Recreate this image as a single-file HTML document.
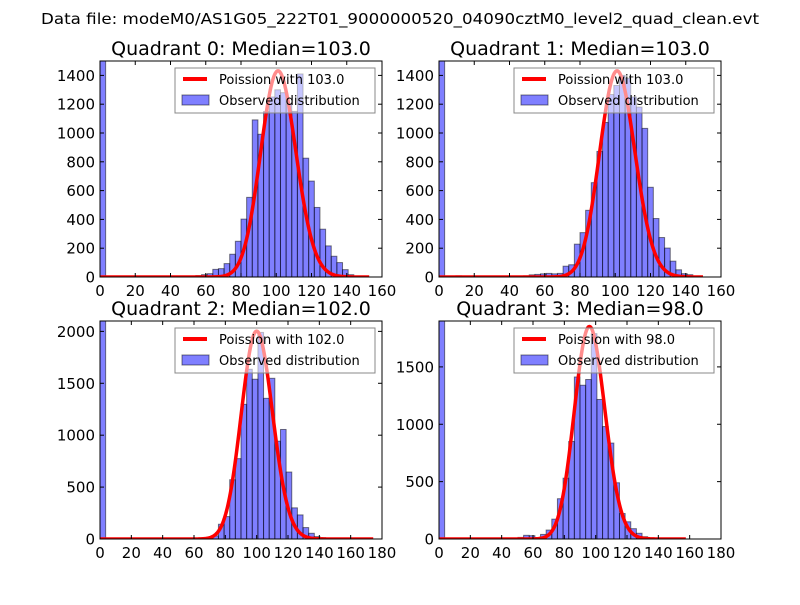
<!DOCTYPE html>
<html><head><meta charset="utf-8"><style>
html,body{margin:0;padding:0;background:#fff;}
svg text{font-family:"DejaVu Sans","Liberation Sans",sans-serif;}
</style></head><body>
<svg id="fig" width="800" height="600" xmlns="http://www.w3.org/2000/svg">
<rect x="0" y="0" width="800" height="600" fill="#fff"/>
<text x="400" y="24" font-size="15" text-anchor="middle" textLength="718" lengthAdjust="spacingAndGlyphs">Data file: modeM0/AS1G05_222T01_9000000520_04090cztM0_level2_quad_clean.evt</text>
</svg>
<script>
// ---- data ----
const titles = ["Quadrant 0: Median=103.0","Quadrant 1: Median=103.0","Quadrant 2: Median=102.0","Quadrant 3: Median=98.0"];
const medians = [103.0, 103.0, 102.0, 98.0];
const xMaxes = [160, 160, 180, 180];
const yMaxes = [1500, 1500, 2100, 1900];
const yTicks0 = [0,200,400,600,800,1000,1200,1400];
const yTicks1 = [0,200,400,600,800,1000,1200,1400];
const yTicks2 = [0,500,1000,1500,2000];
const yTicks3 = [0,500,1000,1500];
const xTicksTop = [0,20,40,60,80,100,120,140,160];
const xTicksBottom = [0,20,40,60,80,100,120,140,160,180];
const curvePeaks = [1430, 1430, 2000, 1850];
const curveEnds = [155, 152, 177, 160];
// counts per bin (50 bins each), bin 0 overflows the axis
const counts0 = [5000,0,0,0,0,0,0,0,0,0,0,0,0,0,3,5,6,10,16,23,53,58,93,158,248,402,553,1091,991,1149,1250,1300,1280,1200,1150,1410,825,666,483,332,216,144,100,51,16,5,0,0,0,0];
const counts1 = [5000,0,0,8,5,0,0,0,0,0,0,0,0,0,5,8,15,18,22,25,22,25,75,85,228,308,463,655,872,1073,1267,1330,1400,1380,1250,1180,1032,623,406,274,201,110,50,23,16,5,0,0,0,0];
const counts2 = [5000,0,0,0,0,0,0,0,0,0,0,0,0,0,0,0,5,8,12,15,30,142,216,571,774,1297,1635,1539,1990,1355,1548,942,1055,645,300,232,110,55,23,13,0,0,0,0,0,0,0,0,0,0];
const counts3 = [5000,0,0,0,0,0,0,0,0,0,0,0,0,0,14,32,29,12,40,78,173,351,530,850,1412,1340,1390,1790,1216,980,836,490,222,150,90,50,20,8,0,0,0,0,0,0,0,0,0,0,0,0];
const allCounts = [counts0, counts1, counts2, counts3];
const allYTicks = [yTicks0, yTicks1, yTicks2, yTicks3];
const curveShift = -1.5;

const NS = "http://www.w3.org/2000/svg";
const fig = document.getElementById('fig');
const boxes = [[100,61,382,277],[439,61,721,277],[100,321,382,539],[439,321,721,539]];

function mk(tag, attrs, parent){
  const e = document.createElementNS(NS, tag);
  for (const k in attrs) e.setAttribute(k, attrs[k]);
  parent.appendChild(e); return e;
}
function lgamma(z){
  let s = 0; while (z < 8){ s -= Math.log(z); z += 1; }
  return s + (z-0.5)*Math.log(z) - z + 0.5*Math.log(2*Math.PI) + 1/(12*z) - 1/(360*z*z*z);
}
function logPmf(k, mu){ return k*Math.log(mu) - mu - lgamma(k+1); }

for (let p = 0; p < 4; p++){
  const [x0,y0,x1,y1] = boxes[p];
  const xMax = xMaxes[p], yMax = yMaxes[p];
  const sx = v => x0 + (v/xMax)*(x1-x0);
  const sy = v => y1 - (v/yMax)*(y1-y0);
  const g = mk('g', {}, fig);
  
  
  const cp = mk('clipPath', {id:'clip'+p}, g);
  mk('rect', {x:x0, y:y0, width:x1-x0, height:y1-y0}, cp);
  const title = mk('text', {x:(x0+x1)/2, y:y0-6, 'font-size':19, 'text-anchor':'middle'}, g);
  title.textContent = titles[p];
  
  
  const plot = mk('g', {'clip-path':'url(#clip'+p+')'}, g);
  const counts = allCounts[p];
  const bw = xMax / counts.length;
  counts.forEach((c, i) => {
    if (c <= 0) return;
    const r = mk('rect', {x:sx(i*bw), y:sy(c), width:sx((i+1)*bw)-sx(i*bw), height:sy(0)-sy(c),
      fill:'rgba(0,0,255,0.5)', stroke:'rgba(0,0,0,0.5)', 'stroke-width':1}, plot);
    
    
  });
  const mu = medians[p];
  const lp0 = logPmf(Math.floor(mu), mu);
  let d = '';
  for (let k = 0; k <= curveEnds[p]; k += 0.5){
    const v = curvePeaks[p] * Math.exp(logPmf(k, mu) - lp0);
    d += (k===0?'M':'L') + sx(Math.max(0,k + curveShift*(k/mu))).toFixed(2) + ',' + sy(v).toFixed(2);
  }
  const path = mk('path', {d:d, fill:'none', stroke:'#ff0000', 'stroke-width':3.5, 'stroke-linejoin':'round'}, plot);
  
  
  const fr = mk('rect', {x:x0, y:y0, width:x1-x0, height:y1-y0, fill:'none', stroke:'#000', 'stroke-width':1}, g);
  
  
  const xt = p < 2 ? xTicksTop : xTicksBottom;
  xt.forEach(t => {
    const x = sx(t);
    mk('line', {x1:x, y1:y1, x2:x, y2:y1-4, stroke:'#000'}, g);
    mk('line', {x1:x, y1:y0, x2:x, y2:y0+4, stroke:'#000'}, g);
    const tl = mk('text', {x:x, y:y1+19, 'font-size':15, 'text-anchor':'middle'}, g);
    tl.textContent = t;
    
    
  });
  allYTicks[p].forEach(t => {
    const y = sy(t);
    mk('line', {x1:x0, y1:y, x2:x0+4, y2:y, stroke:'#000'}, g);
    mk('line', {x1:x1, y1:y, x2:x1-4, y2:y, stroke:'#000'}, g);
    const tl = mk('text', {x:x0-5, y:y+5.5, 'font-size':15, 'text-anchor':'end'}, g);
    tl.textContent = t;
    
    
  });
  const lg = mk('g', {}, g);
  
  
  const lx = x1 - 207, ly = y0 + 7;
  mk('rect', {x:lx, y:ly, width:200, height:45, fill:'rgba(255,255,255,0.55)', stroke:'#888', 'stroke-width':1}, lg);
  const ll = mk('line', {x1:lx+8, y1:ly+11, x2:lx+32, y2:ly+11, stroke:'#ff0000', 'stroke-width':4}, lg);
  
  
  const t1 = mk('text', {x:lx+44, y:ly+16, 'font-size':13}, lg);
  t1.textContent = 'Poission with ' + medians[p].toFixed(1);
  const pr = mk('rect', {x:lx+7, y:ly+27, width:27, height:10, fill:'rgba(0,0,255,0.5)', stroke:'rgba(0,0,0,0.5)'}, lg);
  
  
  const t2 = mk('text', {x:lx+44, y:ly+37, 'font-size':13}, lg);
  t2.textContent = 'Observed distribution';
}
</script>
</body></html>
